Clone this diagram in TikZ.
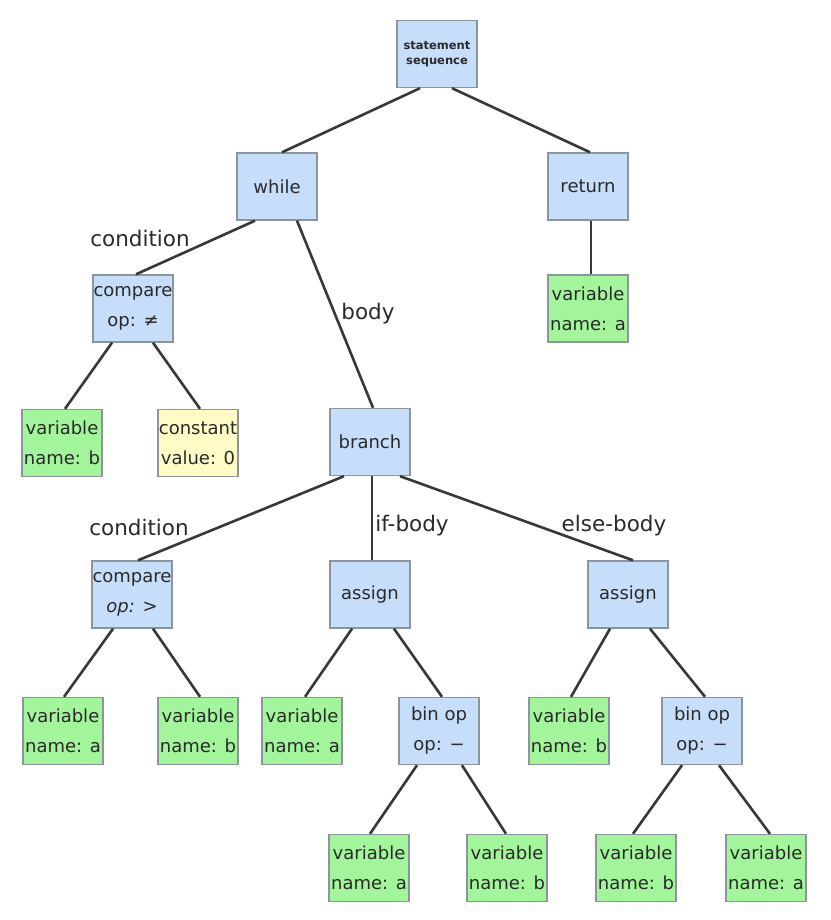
\documentclass[tikz,border=0pt]{standalone}
\usepackage{fontspec}
\setmainfont{DejaVu Sans}
\definecolor{boxblue}{HTML}{C6DEFA}
\definecolor{boxgreen}{HTML}{A2F59A}
\definecolor{boxyellow}{HTML}{FFFCC6}
\definecolor{boxline}{HTML}{8C949C}
\definecolor{edgecol}{HTML}{383838}
\definecolor{txt}{HTML}{2A2A2A}
\begin{document}
\begin{tikzpicture}[x=1pt,y=-1pt,
  box/.style={draw=boxline,line width=1.4pt,minimum width=80pt,minimum height=67pt,
    inner sep=0pt,align=center,font=\fontsize{18}{30}\selectfont,text=txt},
  astnode/.style={box,fill=boxblue},
  leafnode/.style={box,fill=boxgreen},
  litnode/.style={box,fill=boxyellow},
  edge/.style={draw=edgecol,line width=2.6pt},
  lbl/.style={font=\fontsize{21.5}{24}\selectfont,text=txt,inner sep=0pt}]
\useasboundingbox[fill=white] (0,0) rectangle (830,920);
% row 0
\node[astnode,font=\fontsize{11.5}{15}\selectfont\bfseries] (ss) at (437,54) {statement\\sequence};
% row 1
\node[astnode] (wh) at (277,186.5) {while};
\node[astnode] (ret) at (588,186.5) {return};
% row 2
\node[astnode] (cmp1) at (133,308.5) {compare\\op: ≠};
\node[leafnode] (va0) at (588,308.5) {variable\\name: a};
% row 3
\node[leafnode] (vb1) at (62,443) {variable\\name: b};
\node[litnode] (c0) at (198,443) {constant\\value: 0};
\node[astnode] (br) at (370,442) {branch};
% row 4
\node[astnode] (cmp2) at (132,594.5) {compare\\\textit{op:} >};
\node[astnode] (as1) at (370,594.5) {assign};
\node[astnode] (as2) at (628,594.5) {assign};
% row 5
\node[leafnode] (va2) at (63,731) {variable\\name: a};
\node[leafnode] (vb2) at (198,731) {variable\\name: b};
\node[leafnode] (va3) at (302,731) {variable\\name: a};
\node[astnode] (bo1) at (439,731) {bin op\\op: −};
\node[leafnode] (vb3) at (569,731) {variable\\name: b};
\node[astnode] (bo2) at (702,731) {bin op\\op: −};
% row 6
\node[leafnode] (va4) at (369,868) {variable\\name: a};
\node[leafnode] (vb4) at (507,868) {variable\\name: b};
\node[leafnode] (vb5) at (636,868) {variable\\name: b};
\node[leafnode] (va5) at (766,868) {variable\\name: a};
% edges
\draw[edge] ([xshift=-17pt]ss.south) -- ([xshift=5pt]wh.north);
\draw[edge] ([xshift=15pt]ss.south) -- ([xshift=2pt]ret.north);
\draw[edge] ([xshift=-22pt]wh.south) -- ([xshift=3pt]cmp1.north);
\draw[edge] ([xshift=20pt]wh.south) -- ([xshift=3pt]br.north);
\draw[edge] ([xshift=3pt]ret.south) -- ([xshift=3pt]va0.north);
\draw[edge] ([xshift=-21pt]cmp1.south) -- ([xshift=3pt]vb1.north);
\draw[edge] ([xshift=20pt]cmp1.south) -- ([xshift=2pt]c0.north);
\draw[edge] ([xshift=-26pt]br.south) -- ([xshift=6pt]cmp2.north);
\draw[edge] ([xshift=2pt]br.south) -- ([xshift=2pt]as1.north);
\draw[edge] ([xshift=30pt]br.south) -- ([xshift=5pt]as2.north);
\draw[edge] ([xshift=-19pt]cmp2.south) -- ([xshift=1pt]va2.north);
\draw[edge] ([xshift=21pt]cmp2.south) -- ([xshift=2pt]vb2.north);
\draw[edge] ([xshift=-18pt]as1.south) -- ([xshift=3pt]va3.north);
\draw[edge] ([xshift=24pt]as1.south) -- ([xshift=3pt]bo1.north);
\draw[edge] ([xshift=-18pt]as2.south) -- ([xshift=2pt]vb3.north);
\draw[edge] ([xshift=22pt]as2.south) -- ([xshift=3pt]bo2.north);
\draw[edge] ([xshift=-22pt]bo1.south) -- ([xshift=1pt]va4.north);
\draw[edge] ([xshift=23pt]bo1.south) -- ([xshift=-1pt]vb4.north);
\draw[edge] ([xshift=-20pt]bo2.south) -- ([xshift=-3pt]vb5.north);
\draw[edge] ([xshift=17pt]bo2.south) -- ([xshift=4pt]va5.north);
% labels
\node[lbl] (l1) at (140,238) {condition};
\node[lbl] (l2) at (368,314) {body};
\node[lbl] (l3) at (139,527) {condition};
\node[lbl] (l4) at (412,526) {if-body};
\node[lbl] (l5) at (614,526) {else-body};
\end{tikzpicture}
\end{document}
